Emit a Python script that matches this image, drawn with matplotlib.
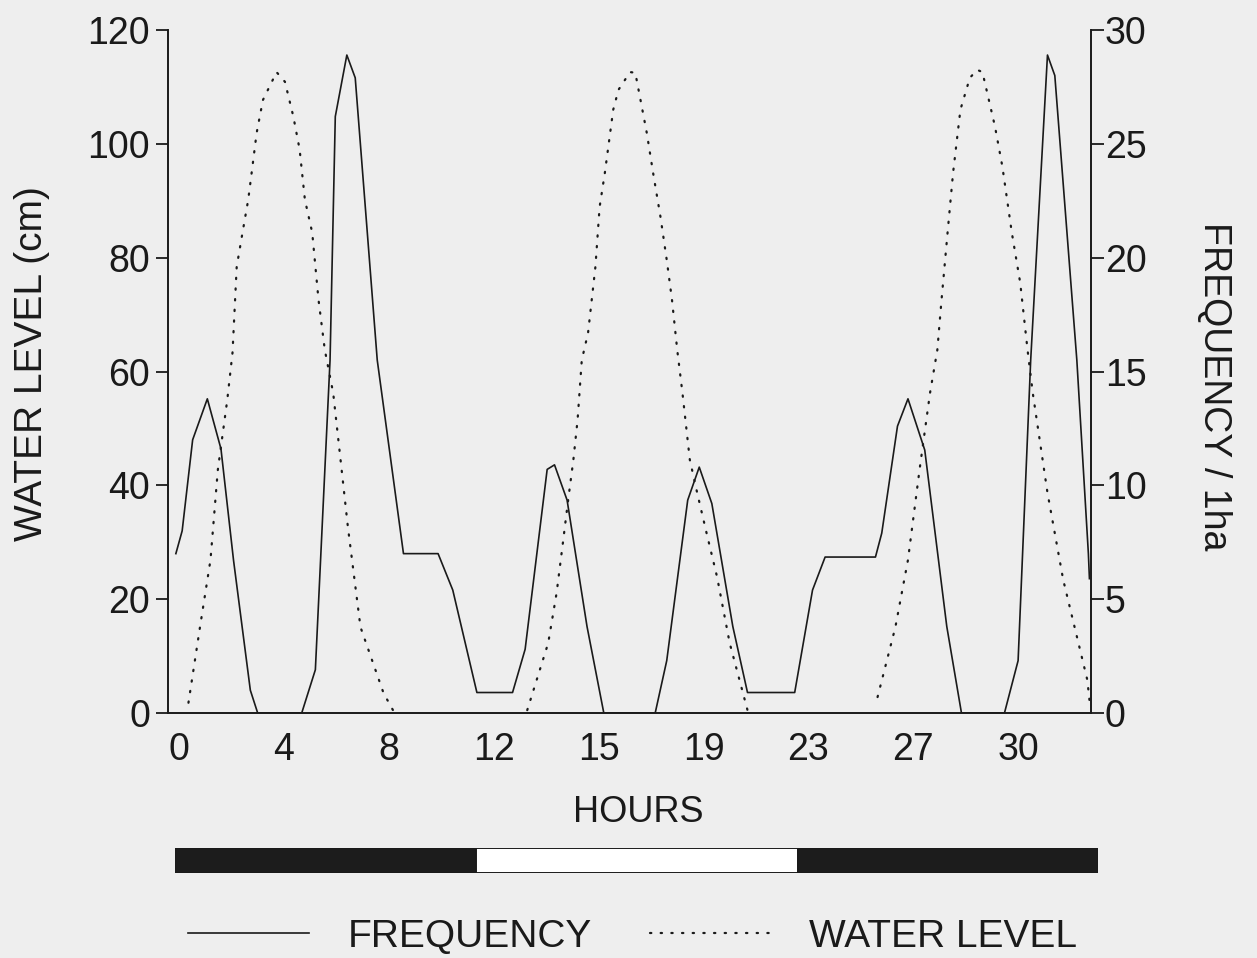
import numpy as np
import matplotlib
matplotlib.use("Agg")
import matplotlib.pyplot as plt

plt.rcParams['font.family'] = ['Liberation Sans', 'DejaVu Sans']

# x positions are in "label slots": the hour labels sit evenly spaced on the axis
hour_labels = ['0', '4', '8', '12', '15', '19', '23', '27', '30']
hour_pos = np.arange(len(hour_labels))

# frequency / 1ha (solid line, right axis)
freq_x = [-0.03, 0.03, 0.13, 0.27, 0.40, 0.52, 0.68, 0.75, 1.17, 1.30, 1.44, 1.49, 1.60,
          1.68, 1.89, 2.14, 2.47, 2.61, 2.84, 3.18, 3.30, 3.51, 3.58, 3.70, 3.89, 4.05,
          4.54, 4.65, 4.85, 4.96, 5.08, 5.28, 5.42, 5.87, 6.04, 6.16, 6.64, 6.70, 6.85,
          6.95, 7.11, 7.32, 7.46, 7.87, 8.00, 8.12, 8.28, 8.35, 8.56, 8.67, 8.68]
freq_y = [7.0, 8.0, 12.0, 13.8, 11.6, 6.7, 1.0, 0, 0, 1.9, 15.5, 26.2, 28.9,
          27.9, 15.5, 7.0, 7.0, 5.4, 0.9, 0.9, 2.8, 10.7, 10.9, 9.35, 3.8, 0,
          0, 2.3, 9.35, 10.8, 9.2, 3.8, 0.9, 0.9, 5.4, 6.85, 6.85, 7.9, 12.6,
          13.8, 11.55, 3.8, 0, 0, 2.3, 15.5, 28.9, 28.0, 15.5, 7.0, 5.9]

# water level in cm (dotted line, left axis), three tides separated by gaps
water_x = [0.09, 0.20, 0.30, 0.37, 0.46, 0.51, 0.55, 0.61, 0.66, 0.70, 0.74, 0.80, 0.93,
           1.01, 1.09, 1.15, 1.20, 1.27, 1.33, 1.39, 1.47, 1.54, 1.61, 1.73, 1.95, 2.04,
           np.nan,
           3.32, 3.52, 3.60, 3.66, 3.71, 3.76, 3.80, 3.84, 3.90, 3.97, 4.01, 4.06, 4.14,
           4.19, 4.30, 4.35, 4.40, 4.46, 4.52, 4.59, 4.65, 4.70, 4.75, 4.80, 4.87, 4.94,
           5.03, 5.13, 5.25, 5.42,
           np.nan,
           6.66, 6.83, 6.95, 7.06, 7.16, 7.23, 7.27, 7.33, 7.38, 7.45, 7.54, 7.61, 7.66,
           7.78, 7.85, 7.94, 8.02, 8.09, 8.14, 8.28, 8.43, 8.66, 8.68]
water_y = [1.8, 15.1, 26.9, 42.7, 55.0, 63.3, 78.4, 84.9, 90.2, 96.0, 101.9, 107.7, 112.6,
           110.9, 104.8, 99.0, 90.2, 84.4, 72.6, 63.8, 56.2, 44.5, 32.7, 15.1, 3.5, 0.5,
           np.nan,
           0.5, 12.3, 21.1, 29.9, 37.4, 44.5, 51.5, 62.0, 66.8, 78.4, 88.9, 94.9, 106.0,
           109.5, 112.6, 112.5, 107.7, 101.9, 94.9, 87.2, 79.6, 72.6, 63.8, 56.2, 44.5, 38.7,
           31.6, 23.9, 12.3, 0.5,
           np.nan,
           2.8, 15.1, 26.9, 42.7, 56.2, 63.8, 72.6, 84.9, 94.9, 106.0, 111.6, 113.0, 112.6,
           103.0, 96.0, 84.4, 75.6, 63.8, 56.2, 38.7, 23.4, 5.8, 2.3]

# dark / light bar under the axis (edges in the same slot units)
bar_edges = [-0.04, 2.83, 5.90, 8.76]
bar_colors = ['#1c1c1c', 'white', '#1c1c1c']

bg = '#eeeeee'
ink = '#1a1a1a'
fs = 27

fig = plt.figure(figsize=(12.57, 9.58), dpi=100, facecolor=bg)
ax = fig.add_axes([168/1257, 245/958, 923/1257, 683/958])
ax.patch.set_visible(False)
ax2 = ax.twinx()
ax2.patch.set_visible(False)

l_freq, = ax2.plot(freq_x, freq_y, color=ink, lw=1.2, label='FREQUENCY')
l_water, = ax.plot(water_x, water_y, color=ink, lw=1.6, linestyle=(0, (0.6, 4.2)),
                   dash_capstyle='round', label='WATER LEVEL')

ax.set_xlim(-0.105, 8.695)
ax.set_ylim(0, 120)
ax2.set_ylim(0, 30)
ax.set_yticks([0, 20, 40, 60, 80, 100, 120])
ax2.set_yticks([0, 5, 10, 15, 20, 25, 30])
ax.set_xticks(hour_pos)
ax.set_xticklabels(hour_labels)

for a in (ax, ax2):
    a.spines['top'].set_visible(False)
    for s in a.spines.values():
        s.set_linewidth(1.4)
        s.set_color(ink)
ax.spines['right'].set_visible(False)
ax2.spines['left'].set_visible(False)
ax2.spines['bottom'].set_visible(False)

ax.tick_params(axis='y', direction='out', length=9, width=1.3, pad=4, labelsize=fs, colors=ink)
ax.tick_params(axis='x', length=0, pad=14, labelsize=fs, colors=ink)
ax2.tick_params(axis='y', direction='out', length=9, width=1.3, pad=1, labelsize=fs, colors=ink)

ax.set_ylabel('WATER LEVEL (cm)', fontsize=28, color=ink, va='center')
ax.yaxis.set_label_coords(-0.147, 0.511)
ax2.set_ylabel('FREQUENCY / 1ha', fontsize=27, color=ink, rotation=-90, va='center')
ax2.yaxis.set_label_coords(1.133, 0.479)
ax.set_xlabel('HOURS', fontsize=26, color=ink, va='center')
ax.xaxis.set_label_coords(0.510, -0.145)

# day / night bar
axb = fig.add_axes([175/1257, 85/958, 923/1257, 25/958])
axb.set_xlim(bar_edges[0], bar_edges[-1])
axb.set_ylim(0, 1)
axb.barh(0.5, np.diff(bar_edges), left=bar_edges[:-1], height=1, color=bar_colors,
         edgecolor=ink, linewidth=1.4)
axb.axis('off')

fig.legend(handles=[l_freq, l_water], loc='center left',
           bbox_to_anchor=(188/1257, 1 - 937/958), ncol=2, frameon=False,
           fontsize=28, handlelength=3.1, handletextpad=1.0, columnspacing=1.5,
           borderpad=0, borderaxespad=0, labelcolor=ink)

fig.savefig('out.png', dpi=100, facecolor=bg)
